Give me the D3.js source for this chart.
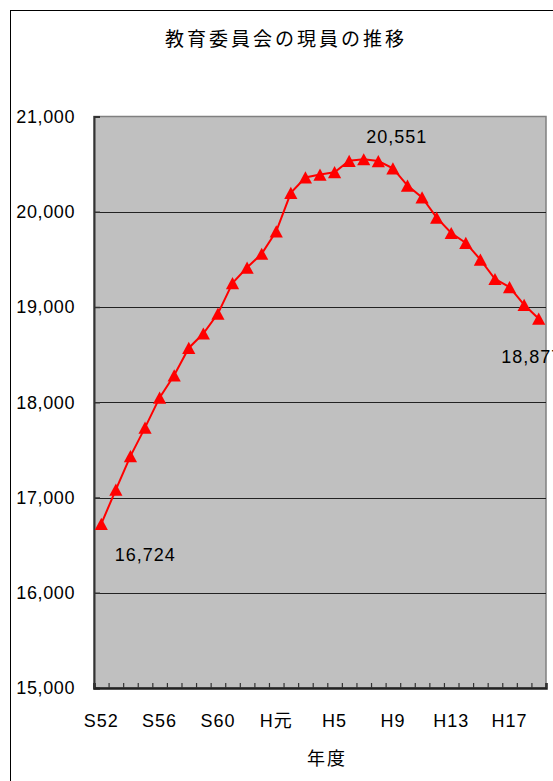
<!DOCTYPE html>
<html lang="ja">
<head>
<meta charset="utf-8">
<script src="https://cdn.jsdelivr.net/npm/d3@7"></script>
<style>
  html, body { margin: 0; padding: 0; background: #fff; overflow: hidden; }
  svg { display: block; }
  text { font-family: "Liberation Sans", "Noto Sans CJK JP", sans-serif; fill: #000; }
</style>
</head>
<body>
<svg id="chart" width="553" height="781"></svg>
<script>
// 年度（S52〜H19）
const categories = [
  "S52","S53","S54","S55","S56","S57","S58","S59","S60","S61","S62","S63",
  "H元","H2","H3","H4","H5","H6","H7","H8","H9","H10","H11","H12","H13",
  "H14","H15","H16","H17","H18","H19"
];
// 教育委員会の現員（人）
const staff = [
  16724, 17082, 17435, 17734, 18048, 18283, 18570, 18722, 18931, 19251, 19414, 19559,
  19794, 20199, 20360, 20390, 20415, 20535, 20551, 20532, 20455, 20275, 20150, 19938, 19777,
  19673, 19498, 19294, 19209, 19023, 18877
];
// 横軸に表示する年度
const xTickLabels = ["S52","S56","S60","H元","H5","H9","H13","H17"];
// 縦軸の目盛
const yTicks = [15000, 16000, 17000, 18000, 19000, 20000, 21000];
// 値を表示する年度
const labelled = ["S52", "H7", "H19"];

const title = "教育委員会の現員の推移";
const xTitle = "年度";

const svg = d3.select("#chart");
const plot = { left: 94, right: 546, top: 116.5, bottom: 688 };

const x = d3.scaleBand().domain(categories).range([plot.left, plot.right]).padding(0);
const y = d3.scaleLinear().domain([15000, 21000]).range([plot.bottom, plot.top]);
const cx = c => x(c) + x.bandwidth() / 2;

// chart frame
svg.append("rect")
  .attr("x", 10.5).attr("y", 10.5).attr("width", 700).attr("height", 900)
  .attr("fill", "#fff").attr("stroke", "#000").attr("stroke-width", 1);

// title
svg.append("text")
  .attr("x", 286).attr("y", 37)
  .attr("text-anchor", "middle").attr("dominant-baseline", "central")
  .style("font-family", "'Noto Sans CJK JP', sans-serif")
  .style("font-size", "19px").style("letter-spacing", "3px")
  .text(title);

// plot background
svg.append("rect")
  .attr("x", plot.left).attr("y", plot.top)
  .attr("width", plot.right - plot.left).attr("height", plot.bottom - plot.top)
  .attr("fill", "#c0c0c0").attr("stroke", "#808080").attr("stroke-width", 1.5);

// gridlines
svg.append("g")
  .selectAll("line")
  .data(yTicks.filter(v => v > 15000 && v < 21000))
  .join("line")
  .attr("x1", plot.left).attr("x2", plot.right)
  .attr("y1", d => Math.round(y(d)) + 0.5).attr("y2", d => Math.round(y(d)) + 0.5)
  .attr("stroke", "#222").attr("stroke-width", 1);

// y axis (ticks point inward)
const yAxis = d3.axisLeft(y)
  .tickValues(yTicks)
  .tickSize(-6)
  .tickPadding(22)
  .tickFormat(d3.format(","));
const gy = svg.append("g").attr("transform", `translate(${plot.left},0)`).call(yAxis);
gy.select(".domain").attr("stroke", "#333").attr("stroke-width", 2);
gy.selectAll(".tick line").attr("stroke", "#333").attr("stroke-width", 1.5);
gy.selectAll(".tick text")
  .attr("x", -19)
  .style("font-size", "18px").style("letter-spacing", "0.6px")
  .attr("fill", "#000");

// x axis: ticks at category boundaries, pointing inward
const xBoundaries = categories.map(c => x(c)).concat([plot.right]);
const xEdge = d3.scaleLinear().domain([plot.left, plot.right]).range([plot.left, plot.right]);
const gxTicks = svg.append("g").attr("transform", `translate(0,${plot.bottom})`)
  .call(d3.axisBottom(xEdge).tickValues(xBoundaries).tickSize(-5).tickFormat(""));
gxTicks.select(".domain").attr("stroke", "#222").attr("stroke-width", 2.5);
gxTicks.selectAll(".tick line").attr("stroke", "#333").attr("stroke-width", 1.2);

const gx = svg.append("g").attr("transform", `translate(0,${plot.bottom})`)
  .call(d3.axisBottom(x).tickValues(xTickLabels).tickSize(0).tickPadding(26));
gx.select(".domain").remove();
gx.selectAll(".tick text")
  .style("font-size", "18px").style("letter-spacing", "1px")
  .attr("fill", "#000");

// x axis title
svg.append("text")
  .attr("x", 327).attr("y", 757)
  .attr("text-anchor", "middle").attr("dominant-baseline", "central")
  .style("font-family", "'Noto Sans CJK JP', sans-serif")
  .style("font-size", "18px").style("letter-spacing", "2px")
  .text(xTitle);

// series line
const series = categories.map((c, i) => ({ c, v: staff[i] }));
svg.append("path")
  .datum(series)
  .attr("fill", "none").attr("stroke", "#ff0000").attr("stroke-width", 2)
  .attr("d", d3.line().x(d => cx(d.c)).y(d => y(d.v)));

// triangle markers
const tri = { draw(ctx, size) {
  const w = 6.6, h = 6.1;
  ctx.moveTo(0, -h); ctx.lineTo(w, h); ctx.lineTo(-w, h); ctx.closePath();
} };
svg.append("g")
  .selectAll("path")
  .data(series)
  .join("path")
  .attr("transform", d => `translate(${cx(d.c)},${y(d.v)})`)
  .attr("d", d3.symbol(tri)())
  .attr("fill", "#ff0000");

// value labels
const labelOffset = { "S52": [44, 31], "H7": [33, -22], "H19": [-7, 38] };
svg.append("g")
  .selectAll("text")
  .data(series.filter(d => labelled.includes(d.c)))
  .join("text")
  .attr("x", d => cx(d.c) + labelOffset[d.c][0])
  .attr("y", d => y(d.v) + labelOffset[d.c][1])
  .attr("text-anchor", "middle").attr("dominant-baseline", "central")
  .style("font-size", "18px").style("letter-spacing", "1px")
  .text(d => d3.format(",")(d.v));
</script>
</body>
</html>
